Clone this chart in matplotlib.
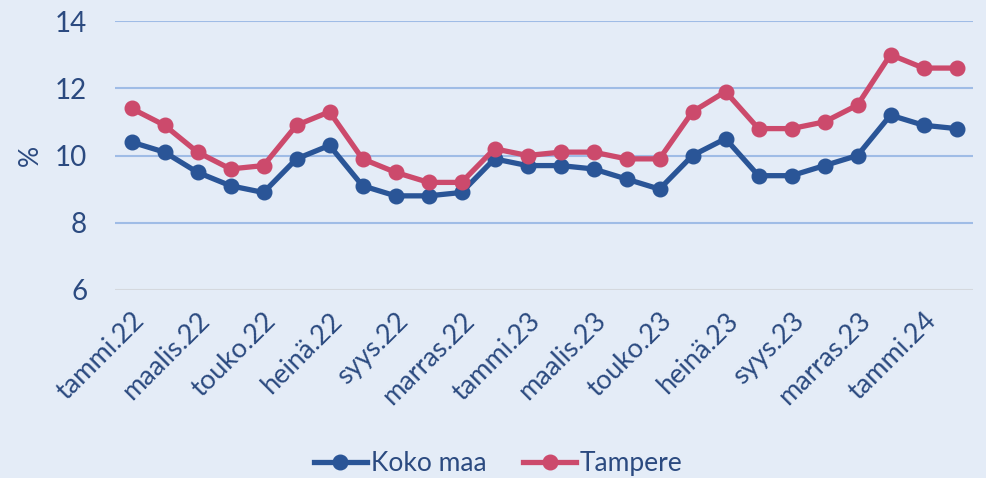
import matplotlib.pyplot as plt
from matplotlib.transforms import ScaledTranslation

months = ["tammi.22", "helmi.22", "maalis.22", "huhti.22", "touko.22", "kesä.22",
          "heinä.22", "elo.22", "syys.22", "loka.22", "marras.22", "joulu.22",
          "tammi.23", "helmi.23", "maalis.23", "huhti.23", "touko.23", "kesä.23",
          "heinä.23", "elo.23", "syys.23", "loka.23", "marras.23", "joulu.23",
          "tammi.24", "helmi.24"]
koko_maa = [10.4, 10.1, 9.5, 9.1, 8.9, 9.9, 10.3, 9.1, 8.8, 8.8, 8.9, 9.9,
            9.7, 9.7, 9.6, 9.3, 9.0, 10.0, 10.5, 9.4, 9.4, 9.7, 10.0, 11.2,
            10.9, 10.8]
tampere = [11.4, 10.9, 10.1, 9.6, 9.7, 10.9, 11.3, 9.9, 9.5, 9.2, 9.2, 10.2,
           10.0, 10.1, 10.1, 9.9, 9.9, 11.3, 11.9, 10.8, 10.8, 11.0, 11.5, 13.0,
           12.6, 12.6]
y_ticks = [6, 8, 10, 12, 14]

BG = "#E4ECF7"
TXT = "#2B4A80"
BLUE = "#2A5597"
PINK = "#CC4A6C"

plt.rcParams["font.family"] = ["Lato", "DejaVu Sans"]

fig = plt.figure(figsize=(9.87, 4.78), dpi=100, facecolor=BG)
ax = fig.add_axes([115 / 987, 1 - 290 / 478, 858 / 987, 269 / 478])
ax.set_facecolor(BG)

x = list(range(len(months)))
ax.plot(x, koko_maa, color=BLUE, lw=3.8, marker="o", ms=10.5, label="Koko maa", zorder=3)
ax.plot(x, tampere, color=PINK, lw=3.8, marker="o", ms=10.5, label="Tampere", zorder=3)

ax.set_xlim(-0.5, len(months) - 0.5)
ax.set_ylim(6, 14)
ax.set_yticks(y_ticks)
for t in y_ticks:
    ax.axhline(t, color="#D4D8DE" if t == 6 else "#9FBCE6", lw=1.5, zorder=1)

ax.set_xticks(x[::2])
ax.set_xticklabels(months[::2], rotation=45, ha="right", rotation_mode="anchor",
                   fontsize=19.5, color=TXT)
shift = ScaledTranslation(1 / 100, 0, fig.dpi_scale_trans)
for lab in ax.get_xticklabels():
    lab.set_transform(lab.get_transform() + shift)
ax.tick_params(axis="both", length=0)
ax.tick_params(axis="x", pad=13)
ax.tick_params(axis="y", labelsize=20, labelcolor=TXT, pad=20)
for s in ax.spines.values():
    s.set_visible(False)

ax.set_ylabel("%", fontsize=19, color=TXT)
ax.yaxis.set_label_coords(-0.084, 0.5)

fig.legend(loc="lower center", bbox_to_anchor=(0.505, -0.045), ncol=2, frameon=False,
           fontsize=19, labelcolor=TXT, handlelength=2.0, columnspacing=1.4,
           handletextpad=0.15)

fig.savefig("out.png", dpi=100, facecolor=BG)
